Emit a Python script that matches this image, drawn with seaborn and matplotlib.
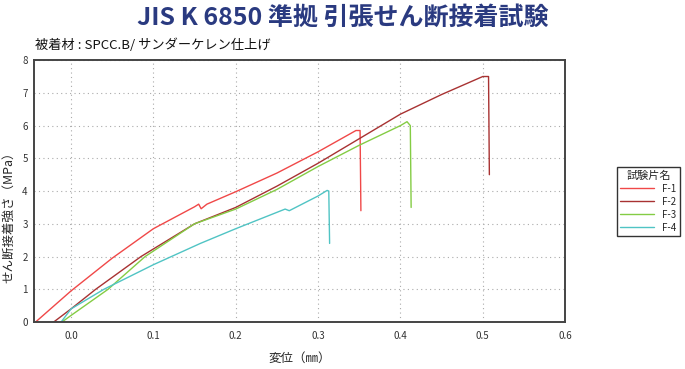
import pandas as pd
import seaborn as sns
import matplotlib.pyplot as plt
from matplotlib.ticker import MultipleLocator, FormatStrFormatter

# 読み取り値 (変位 mm, 強さ MPa)
f1_x = [-0.043, 0.0, 0.05, 0.1, 0.15, 0.155, 0.158, 0.165, 0.2, 0.25, 0.3, 0.346, 0.351, 0.352]
f1_y = [0.0, 0.95, 1.95, 2.85, 3.52, 3.6, 3.46, 3.6, 3.98, 4.55, 5.2, 5.85, 5.85, 3.4]

f2_x = [-0.021, 0.0, 0.03, 0.085, 0.15, 0.2, 0.25, 0.3, 0.35, 0.4, 0.45, 0.5, 0.507, 0.508]
f2_y = [0.0, 0.4, 1.0, 2.0, 3.0, 3.5, 4.15, 4.85, 5.6, 6.35, 6.95, 7.5, 7.5, 4.5]

f3_x = [-0.011, 0.0, 0.045, 0.09, 0.15, 0.2, 0.25, 0.3, 0.35, 0.4, 0.408, 0.412, 0.413]
f3_y = [0.0, 0.2, 1.0, 2.0, 3.0, 3.45, 4.05, 4.75, 5.4, 6.0, 6.12, 6.0, 3.5]

f4_x = [-0.012, 0.0, 0.04, 0.1, 0.157, 0.2, 0.25, 0.26, 0.265, 0.3, 0.311, 0.313, 0.314]
f4_y = [0.0, 0.4, 1.0, 1.75, 2.4, 2.85, 3.35, 3.45, 3.4, 3.85, 4.02, 4.0, 2.4]

names = ["F-1", "F-2", "F-3", "F-4"]
colors = ["#f04848", "#a83232", "#84cc44", "#50c4c4"]

frames = []
for name, xs, ys in zip(names, [f1_x, f2_x, f3_x, f4_x], [f1_y, f2_y, f3_y, f4_y]):
    frames.append(pd.DataFrame({"x": xs, "y": ys, "試験片名": name}))
df = pd.concat(frames, ignore_index=True)

sns.set_style("white")
plt.rcParams['font.family'] = ['Noto Sans CJK JP', 'DejaVu Sans']

fig = plt.figure(figsize=(6.85, 3.69), dpi=100)
ax = fig.add_axes([0.0496, 0.1274, 0.7754, 0.7096])

sns.lineplot(data=df, x="x", y="y", hue="試験片名", palette=colors,
             sort=False, estimator=None, linewidth=1.0, ax=ax, legend=False)

ax.set_xlim(-0.045, 0.6)
ax.set_ylim(0, 8)
ax.xaxis.set_major_locator(MultipleLocator(0.1))
ax.xaxis.set_minor_locator(MultipleLocator(0.05))
ax.yaxis.set_major_locator(MultipleLocator(1))
ax.yaxis.set_minor_locator(MultipleLocator(0.5))
ax.xaxis.set_major_formatter(FormatStrFormatter("%.1f"))
ax.tick_params(which="both", direction="inout", length=6, width=1, colors="#333333",
               labelsize=7)
ax.tick_params(axis="y", pad=1.5)
ax.grid(True, which="major", linestyle=(0, (1, 3)), color="#aaaaaa", linewidth=0.8)
for s in ax.spines.values():
    s.set_color("#444444")
    s.set_linewidth(1.4)

ax.set_xlabel("変位（㎜）", fontsize=9)
ax.set_ylabel("せん断接着強さ（MPa）", fontsize=9)
ax.xaxis.set_label_coords(0.5, -0.115)
ax.yaxis.set_label_coords(-0.036, 0.41)

fig.text(0.5, 0.952, "JIS K 6850 準拠 引張せん断接着試験", ha="center", va="center",
         fontsize=18, fontweight="bold", color="#2a3a80")
fig.text(0.051, 0.878, "被着材 : SPCC.B/ サンダーケレン仕上げ", ha="left", va="center",
         fontsize=9.5, color="#111111")

handles = [plt.Line2D([], [], color=c, linewidth=1.0) for c in colors]
leg = fig.legend(handles, names, title="試験片名", loc="upper left",
                 bbox_to_anchor=(0.893, 0.561), fontsize=7, title_fontsize=8,
                 fancybox=False, edgecolor="#333333", framealpha=1,
                 handlelength=3.5, borderpad=0.4, labelspacing=0.3)
leg.get_frame().set_linewidth(1.0)

fig.savefig("out.png", dpi=100)
